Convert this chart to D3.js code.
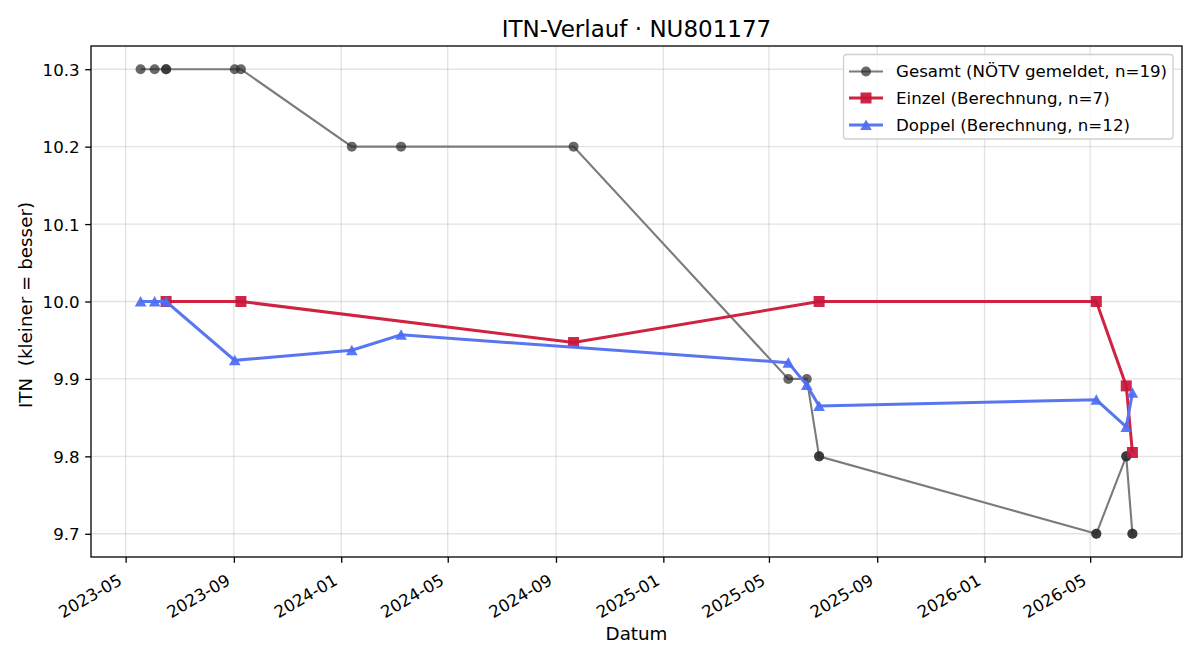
<!DOCTYPE html>
<html><head><meta charset="utf-8">
<script src="https://cdn.jsdelivr.net/npm/d3@7"></script>
<style>body{margin:0;background:#fff}svg{font-family:"DejaVu Sans",sans-serif}</style>
</head><body><svg id="c" width="1200" height="660"></svg>
<script>
const gesamtDates = ["2023-05-18","2023-06-03","2023-06-16","2023-06-16","2023-09-02","2023-09-09","2024-01-13","2024-03-09","2024-09-21","2025-05-23","2025-06-13","2025-06-27","2025-06-27","2026-05-08","2026-05-08","2026-06-11","2026-06-11","2026-06-18","2026-06-18"];
const gesamtValues = [10.3,10.3,10.3,10.3,10.3,10.3,10.2,10.2,10.2,9.9,9.9,9.8,9.8,9.7,9.7,9.8,9.8,9.7,9.7];
const einzelDates = ["2023-06-16","2023-09-09","2024-09-21","2025-06-27","2026-05-08","2026-06-11","2026-06-18"];
const einzelValues = [10.0,10.0,9.947,10.0,10.0,9.891,9.805];
const doppelDates = ["2023-05-18","2023-06-03","2023-06-16","2023-09-02","2024-01-13","2024-03-09","2025-05-23","2025-06-13","2025-06-27","2026-05-08","2026-06-11","2026-06-18"];
const doppelValues = [10.0,10.0,10.0,9.924,9.937,9.957,9.921,9.892,9.865,9.873,9.838,9.882];
const yTicks = [9.7,9.8,9.9,10.0,10.1,10.2,10.3];
const xTickLabels = ["2023-05","2023-09","2024-01","2024-05","2024-09","2025-01","2025-05","2025-09","2026-01","2026-05"];
const legendLabels = ["Gesamt (NÖTV gemeldet, n=19)","Einzel (Berechnung, n=7)","Doppel (Berechnung, n=12)"];

const parse = d3.utcParse("%Y-%m-%d");
const parseM = d3.utcParse("%Y-%m");
const L=91,R=1182,T=46,B=557;
const FS=16.67;
const svg = d3.select("#c");

const allDates = gesamtDates.map(parse);
const [dmin,dmax] = d3.extent(allDates);
const span = dmax-dmin;
const x = d3.scaleUtc().domain([new Date(+dmin-span*0.05), new Date(+dmax+span*0.05)]).range([L,R]);
const y = d3.scaleLinear().domain([9.67,10.33]).range([B,T]);

const g = svg.append("g");
g.selectAll(".gx").data(xTickLabels).join("line")
 .attr("x1",d=>x(parseM(d))).attr("x2",d=>x(parseM(d))).attr("y1",T).attr("y2",B)
 .attr("stroke","#b0b0b0").attr("stroke-opacity",0.35).attr("stroke-width",1.3);
g.selectAll(".gy").data(yTicks).join("line")
 .attr("y1",d=>y(d)).attr("y2",d=>y(d)).attr("x1",L).attr("x2",R)
 .attr("stroke","#b0b0b0").attr("stroke-opacity",0.35).attr("stroke-width",1.3);

// axes
const xAxis = d3.axisBottom(x).tickValues(xTickLabels.map(parseM)).tickFormat(d3.utcFormat("%Y-%m")).tickSizeOuter(0).tickSize(5.8);
const xa = svg.append("g").attr("transform",`translate(0,${B})`).call(xAxis);
xa.select(".domain").remove();
xa.selectAll("line").attr("stroke","#000").attr("stroke-width",1.3);
xa.selectAll(".tick text").attr("font-size",FS+"px").attr("fill","#000").attr("font-family","DejaVu Sans")
  .attr("text-anchor","end").attr("dy",null).attr("x",0).attr("y",-3.9)
  .attr("transform","translate(-1,30) rotate(-30)");
const yAxis = d3.axisLeft(y).tickValues(yTicks).tickFormat(d3.format(".1f")).tickSizeOuter(0).tickSize(5.8);
const ya = svg.append("g").attr("transform",`translate(${L},0)`).call(yAxis);
ya.select(".domain").remove();
ya.selectAll("line").attr("stroke","#000").attr("stroke-width",1.3);
ya.selectAll(".tick text").attr("font-size",FS+"px").attr("fill","#000").attr("font-family","DejaVu Sans").attr("x",-11.3).attr("dy","0.36em");

svg.append("rect").attr("x",L).attr("y",T).attr("width",R-L).attr("height",B-T)
 .attr("fill","none").attr("stroke","#000").attr("stroke-width",1.3);

// series
const line = d3.line().x(d=>x(d.d)).y(d=>y(d.v));
const gData = gesamtDates.map((d,i)=>({d:parse(d),v:gesamtValues[i]}));
const eData = einzelDates.map((d,i)=>({d:parse(d),v:einzelValues[i]}));
const dData = doppelDates.map((d,i)=>({d:parse(d),v:doppelValues[i]}));
const triPath = "M0,-5.6L-5.8,5L5.8,5Z";

svg.append("path").datum(gData).attr("d",line).attr("fill","none").attr("stroke","#7b7b7b").attr("stroke-width",2.1);
svg.selectAll(".gp").data(gData).join("circle").attr("cx",d=>x(d.d)).attr("cy",d=>y(d.v)).attr("r",5)
 .attr("fill","#2a2a2a").attr("fill-opacity",0.7);

svg.append("path").datum(eData).attr("d",line).attr("fill","none").attr("stroke","#cf2342").attr("stroke-width",3);
svg.selectAll(".ep").data(eData).join("rect").attr("x",d=>x(d.d)-5.5).attr("y",d=>y(d.v)-5.5).attr("width",11).attr("height",11)
 .attr("fill","#c8153a").attr("fill-opacity",0.92);

svg.append("path").datum(dData).attr("d",line).attr("fill","none").attr("stroke","#5875f2").attr("stroke-width",3);
svg.selectAll(".dp").data(dData).join("path").attr("d",triPath)
 .attr("transform",d=>`translate(${x(d.d)},${y(d.v)})`).attr("fill","#4c6cf4").attr("fill-opacity",0.92);

// title & labels
svg.append("text").attr("x",(L+R)/2).attr("y",36.5).attr("text-anchor","middle").attr("font-size","23px").text("ITN-Verlauf · NU801177");
svg.append("text").attr("x",(L+R)/2).attr("y",640).attr("text-anchor","middle").attr("font-size","18.3px").text("Datum");
svg.append("text").attr("transform",`translate(31.5,305) rotate(-90)`).attr("text-anchor","middle").attr("font-size","18.3px").attr("xml:space","preserve").text("ITN  (kleiner = besser)");

// legend
const lg = svg.append("g");
lg.append("rect").attr("x",843.5).attr("y",54.5).attr("width",329.5).attr("height",84.5).attr("rx",3)
 .attr("fill","#fff").attr("fill-opacity",0.8).attr("stroke","#d0d0d0").attr("stroke-width",1.3);
const ly = [71.5,98,125];
const lc = ["#7b7b7b","#cf2342","#5875f2"];
legendLabels.forEach((t,i)=>{
  lg.append("line").attr("x1",849).attr("x2",883).attr("y1",ly[i]).attr("y2",ly[i]).attr("stroke",lc[i]).attr("stroke-width",i?3:2.1);
  if(i===0) lg.append("circle").attr("cx",866).attr("cy",ly[i]).attr("r",5).attr("fill","#2a2a2a").attr("fill-opacity",0.7);
  if(i===1) lg.append("rect").attr("x",860.5).attr("y",ly[i]-5.5).attr("width",11).attr("height",11).attr("fill","#c8153a").attr("fill-opacity",0.92);
  if(i===2) lg.append("path").attr("d",triPath).attr("transform",`translate(866,${ly[i]})`).attr("fill","#4c6cf4").attr("fill-opacity",0.92);
  lg.append("text").attr("x",896).attr("y",ly[i]+5.5).attr("font-size",FS+"px").attr("xml:space","preserve").text(t);
});
</script></body></html>
